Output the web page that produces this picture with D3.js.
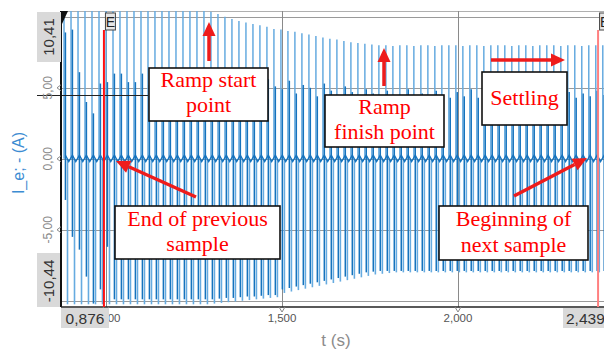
<!DOCTYPE html>
<html><head><meta charset="utf-8">
<script src="https://cdn.jsdelivr.net/npm/d3@7"></script>
<style>body{margin:0;background:#fff}svg{display:block}</style>
</head><body><svg id="c" width="604" height="352"></svg>
<script>
// ---- data ----
const spikeTimes = [0.8806,0.9005,0.9204,0.9402,0.9601,0.9800,0.9999,1.0198,1.0396,1.0595,
1.0794,1.0993,1.1192,1.1390,1.1589,1.1788,1.1987,1.2186,1.2384,1.2583,
1.2782,1.2981,1.3180,1.3378,1.3577,1.3776,1.3975,1.4174,1.4372,1.4571,
1.4770,1.4969,1.5168,1.5366,1.5565,1.5764,1.5963,1.6162,1.6360,1.6559,
1.6758,1.6957,1.7156,1.7354,1.7553,1.7752,1.7951,1.8150,1.8348,1.8547,
1.8746,1.8945,1.9144,1.9342,1.9541,1.9740,1.9939,2.0138,2.0336,2.0535,
2.0734,2.0933,2.1132,2.1330,2.1529,2.1728,2.1927,2.2126,2.2324,2.2523,
2.2722,2.2921,2.3120,2.3318,2.3517,2.3716,2.3915,2.4114];
const upPeak = [10.6,10.6,10.6,10.6,10.6,10.6,10.6,10.6,10.6,10.6,
10.6,10.6,10.6,10.6,10.6,10.6,10.6,10.6,10.6,10.6,
10.6,10.35,10.2,10.0,9.85,9.7,9.6,9.5,9.4,9.3,
9.15,9.1,9.0,8.95,8.85,8.75,8.65,8.55,8.45,8.4,
8.3,8.2,8.15,8.1,8.05,8.0,8.0,7.95,8.0,8.0,
7.95,8.0,8.0,7.95,8.0,8.0,8.0,7.95,8.0,8.0,
7.95,8.0,8.0,8.0,7.95,8.0,8.0,7.95,8.0,8.0,
8.0,7.95,8.0,8.0,7.95,8.0,8.0,8.0];
const downPeak = [-10.25,-10.25,-10.25,-10.25,-10.25,-10.25,-10.25,-10.25,-10.25,-10.25,
-10.25,-10.25,-10.25,-10.25,-10.25,-10.25,-10.25,-10.25,-10.25,-10.25,
-10.25,-10.2,-10.15,-10.1,-10.05,-10.0,-9.95,-9.9,-9.85,-9.8,
-9.75,-9.45,-9.35,-9.25,-9.15,-9.05,-8.95,-8.85,-8.75,-8.65,
-8.55,-8.45,-8.35,-8.25,-8.15,-8.1,-8.05,-8.0,-8.0,-8.0,
-8.0,-8.0,-8.0,-8.0,-8.0,-8.0,-8.0,-8.0,-8.0,-8.0,
-8.0,-8.0,-8.0,-8.0,-8.0,-8.0,-8.0,-8.0,-8.0,-8.0,
-8.0,-8.0,-8.0,-8.0,-8.0,-8.0,-8.0,-8.0];
const darkTop = [8.9,9.1,6.1,4.0,3.2,5.3,5.4,6.0,6.0,5.4,
5.4,6.0,5.2,5.6,5.0,5.5,4.8,5.3,5.6,4.9,
5.2,5.5,4.7,5.1,5.4,4.6,5.0,5.3,4.8,5.6,
5.1,4.9,5.5,4.6,5.2,5.0,4.4,5.3,4.8,4.5,
5.1,4.7,4.3,4.9,4.6,4.2,4.8,4.5,4.3,4.9,
4.4,4.6,4.2,4.8,4.5,4.3,4.7,4.4,4.9,4.3,
4.6,4.4,4.8,4.2,4.5,4.7,4.3,4.6,4.4,4.8,
4.2,4.5,4.7,4.3,4.6,4.4,4.8,4.5];
const darkBot = [-2.9,-5.5,-6.4,-8.3,-10.2,-9.2,-6.2,-9.9,-9.9,-9.9,
-9.9,-9.9,-9.9,-9.9,-9.9,-9.9,-9.9,-9.9,-9.9,-9.9,
-9.9,-9.9,-9.85,-9.8,-9.8,-9.75,-9.7,-9.7,-9.65,-9.6,
-9.6,-9.2,-9.1,-9.0,-8.9,-8.8,-8.7,-8.6,-8.5,-8.4,
-8.3,-8.2,-8.1,-8.0,-7.95,-7.9,-7.9,-7.9,-7.9,-7.9,
-7.9,-7.9,-7.9,-7.9,-7.9,-7.9,-7.9,-7.9,-7.9,-7.9,
-7.9,-7.9,-7.9,-7.9,-7.9,-7.9,-7.9,-7.9,-7.9,-7.9,
-7.9,-7.9,-7.9,-7.9,-7.9,-7.9,-7.9,-7.9];
const rippleHigh = 0.25, rippleLow = -0.2;
const xDomain = [0.876, 2.439];
const xDomainLabels = ["0,876", "2,439"];
const yDomain = [-10.44, 10.41];
const yDomainLabels = ["-10,44", "10,41"];
const xTicks = [1.0, 1.5, 2.0];
const xTickLabels = ["1,000", "1,500", "2,000"];
const yTicks = [5, 0, -5];
const yTickLabels = ["5,00", "0,00", "-5,00"];
const yGrid = [10, 5, 0, -5, -10];
const cursorTimes = [0.994, 2.398];
const yTitle = "I_e; - (A)";
const xTitle = "t (s)";
const notes = [
  ["Ramp start", "point"],
  ["Ramp", "finish point"],
  ["Settling"],
  ["End of previous", "sample"],
  ["Beginning of", "next sample"]
];

// ---- drawing ----
const svg = d3.select("#c");
const x = d3.scaleLinear().domain(xDomain).range([62.4, 612.5]);
const y = d3.scaleLinear().domain(yDomain).range([307, 11]);
const L = 61, R = 604, T = 11, B = 307;
const sans = "'Liberation Sans', Arial, sans-serif";

const defs = svg.append("defs");
defs.append("clipPath").attr("id","pc")
  .append("rect").attr("x", L).attr("y", T).attr("width", R - L).attr("height", B - T);
defs.append("clipPath").attr("id","xc")
  .append("rect").attr("x", 109).attr("y", 308).attr("width", 495).attr("height", 20);

// grid
svg.append("line").attr("x1", L).attr("x2", R).attr("y1", 11.5).attr("y2", 11.5).attr("stroke", "#b0b0b0").attr("stroke-width", 1.2);
svg.selectAll(".hg").data(yGrid).join("line")
  .attr("x1", L).attr("x2", R).attr("y1", d => Math.round(y(d)) + 0.5).attr("y2", d => Math.round(y(d)) + 0.5)
  .attr("stroke", "#9a9a9a").attr("stroke-width", 1);
svg.selectAll(".vg").data(xTicks).join("line")
  .attr("x1", d => Math.round(x(d)) + 0.5).attr("x2", d => Math.round(x(d)) + 0.5).attr("y1", T).attr("y2", B)
  .attr("stroke", "#8a8a8a").attr("stroke-width", 1);

// signal
const g = svg.append("g").attr("clip-path", "url(#pc)");
const cyc = spikeTimes.map((t, i) => ({t, up: upPeak[i], dn: downPeak[i], dt: darkTop[i], db: darkBot[i]}));
const light = "#66abe0", dark = "#1673bd";
g.selectAll(".up").data(cyc).join("line")
  .attr("x1", d => x(d.t)).attr("x2", d => x(d.t)).attr("y1", y(0)).attr("y2", d => y(d.up))
  .attr("stroke", light).attr("stroke-width", 1.5);
g.selectAll(".dn").data(cyc).join("line")
  .attr("x1", d => x(d.t + 0.0099)).attr("x2", d => x(d.t + 0.0099)).attr("y1", y(0)).attr("y2", d => y(d.dn))
  .attr("stroke", light).attr("stroke-width", 1.6);
g.selectAll(".dk").data(cyc).join("line")
  .attr("x1", d => x(d.t + 0.004)).attr("x2", d => x(d.t + 0.004)).attr("y1", d => y(d.dt)).attr("y2", d => y(d.db))
  .attr("stroke", dark).attr("stroke-width", 1.5);
const ripplePts = [];
cyc.forEach(d => { ripplePts.push([d.t + 0.004, rippleHigh]); ripplePts.push([d.t + 0.0135, rippleLow]); });
g.append("path").attr("d", d3.line().x(d => x(d[0])).y(d => y(d[1]))(ripplePts))
  .attr("fill", "none").attr("stroke", dark).attr("stroke-width", 1.4);

// stray dark line and axes
svg.append("line").attr("x1", 37).attr("x2", 148).attr("y1", 95.5).attr("y2", 95.5).attr("stroke", "#222").attr("stroke-width", 1.2);
svg.append("line").attr("x1", L).attr("x2", L).attr("y1", T).attr("y2", B).attr("stroke", "#111").attr("stroke-width", 2);
svg.append("line").attr("x1", L).attr("x2", R).attr("y1", B).attr("y2", B).attr("stroke", "#222").attr("stroke-width", 1.6);
svg.append("path").attr("d", `M${L-1},${T} L${L+7},${T} L${L+1},${T+13} Z`).attr("fill", "#111");

// y tick markers and labels
svg.selectAll(".ytm").data(yTicks).join("path")
  .attr("d", d => `M${L},${y(d)-3} L${L-4},${y(d)} L${L},${y(d)+3}`)
  .attr("fill", "none").attr("stroke", "#888").attr("stroke-width", 1);
svg.selectAll(".ytl").data(yTicks).join("text")
  .attr("transform", d => `translate(52,${y(d)}) rotate(-90)`)
  .attr("text-anchor", "middle").attr("font-family", sans).attr("font-size", 12).attr("fill", "#8a8a8a")
  .text((d, i) => yTickLabels[i]);

// y domain labels in gray boxes
svg.append("rect").attr("x", 37).attr("y", 12).attr("width", 24).attr("height", 50).attr("fill", "#d9d9d9");
svg.append("rect").attr("x", 37).attr("y", 253).attr("width", 23).attr("height", 54).attr("fill", "#d9d9d9");
svg.append("text").attr("transform", `translate(54,${37}) rotate(-90)`).attr("text-anchor", "middle")
  .attr("font-family", sans).attr("font-size", 15).attr("fill", "#333").text(yDomainLabels[1]);
svg.append("text").attr("transform", `translate(54,${281}) rotate(-90)`).attr("text-anchor", "middle")
  .attr("font-family", sans).attr("font-size", 15).attr("fill", "#333").text(yDomainLabels[0]);

// x tick markers and labels
svg.selectAll(".xtm").data(xTicks).join("path")
  .attr("d", d => `M${x(d)-3},${B} L${x(d)},${B+5} L${x(d)+3},${B}`)
  .attr("fill", "none").attr("stroke", "#888").attr("stroke-width", 1);
svg.append("g").attr("clip-path", "url(#xc)").selectAll(".xtl").data(xTicks).join("text")
  .attr("x", d => x(d)).attr("y", 322).attr("text-anchor", "middle")
  .attr("font-family", sans).attr("font-size", 11.5).attr("fill", "#555")
  .text((d, i) => xTickLabels[i]);
svg.append("rect").attr("x", 61).attr("y", 308).attr("width", 48).attr("height", 20).attr("fill", "#d9d9d9");
svg.append("rect").attr("x", 563).attr("y", 308).attr("width", 41).attr("height", 20).attr("fill", "#d9d9d9");
svg.append("text").attr("x", 85).attr("y", 324).attr("text-anchor", "middle")
  .attr("font-family", sans).attr("font-size", 15.5).attr("fill", "#333").text(xDomainLabels[0]);
svg.append("text").attr("x", 566).attr("y", 324)
  .attr("font-family", sans).attr("font-size", 15.5).attr("fill", "#333").text(xDomainLabels[1]);

// titles
svg.append("text").attr("transform", "translate(24,163) rotate(-90)").attr("text-anchor", "middle")
  .attr("font-family", sans).attr("font-size", 16).attr("fill", "#3c8cd2").text(yTitle);
svg.append("text").attr("x", 336).attr("y", 346).attr("text-anchor", "middle")
  .attr("font-family", sans).attr("font-size", 17).attr("fill", "#8c8c8c").text(xTitle);

// cursors
const curCol = ["#ff1010", "#ff8080"];
cursorTimes.forEach((t, i) => {
  const cx = x(t);
  svg.append("line").attr("x1", cx).attr("x2", cx).attr("y1", 30).attr("y2", B).attr("stroke", curCol[i]).attr("stroke-width", 2);
  svg.append("rect").attr("x", cx + 1.5).attr("y", 13).attr("width", 10).attr("height", 17)
    .attr("fill", "#e6e6e6").attr("stroke", "#444").attr("stroke-width", 1);
  svg.append("text").attr("x", cx + 6.5).attr("y", 27).attr("text-anchor", "middle")
    .attr("font-family", sans).attr("font-size", 14).attr("fill", "#222").text("E");
});

// annotation boxes
const boxes = [
  {x: 149, y: 68, w: 119, h: 53, ly: [87, 112]},
  {x: 325, y: 95, w: 119, h: 52, ly: [114, 139]},
  {x: 482, y: 72, w: 85, h: 53, ly: [105]},
  {x: 115, y: 206, w: 165, h: 53, ly: [226, 251]},
  {x: 439, y: 206, w: 149, h: 54, ly: [226, 252]}
];
boxes.forEach((b, i) => {
  svg.append("rect").attr("x", b.x).attr("y", b.y).attr("width", b.w).attr("height", b.h)
    .attr("fill", "#fff").attr("stroke", "#111").attr("stroke-width", 1.6);
  notes[i].forEach((s, j) => {
    svg.append("text").attr("x", b.x + b.w / 2).attr("y", b.ly[j]).attr("text-anchor", "middle")
      .attr("font-family", "'Liberation Serif', 'Times New Roman', serif").attr("font-size", 22)
      .attr("fill", "#ff0000").text(s);
  });
});

// arrows
function arrow(x1, y1, x2, y2) {
  const a = Math.atan2(y2 - y1, x2 - x1), hl = 14, hw = 6.5;
  const bx = x2 - hl * Math.cos(a), by = y2 - hl * Math.sin(a);
  svg.append("line").attr("x1", x1).attr("y1", y1).attr("x2", bx).attr("y2", by)
    .attr("stroke", "#ee1c1c").attr("stroke-width", 3.5);
  const px = -Math.sin(a) * hw, py = Math.cos(a) * hw;
  svg.append("path").attr("d", `M${x2},${y2} L${bx + px},${by + py} L${bx - px},${by - py} Z`).attr("fill", "#ee1c1c");
}
arrow(209, 61, 209, 22);
arrow(384, 86, 384, 48);
arrow(491, 60, 565, 60);
arrow(196, 197, 116, 161);
arrow(514, 196, 587, 158);
</script></body></html>
